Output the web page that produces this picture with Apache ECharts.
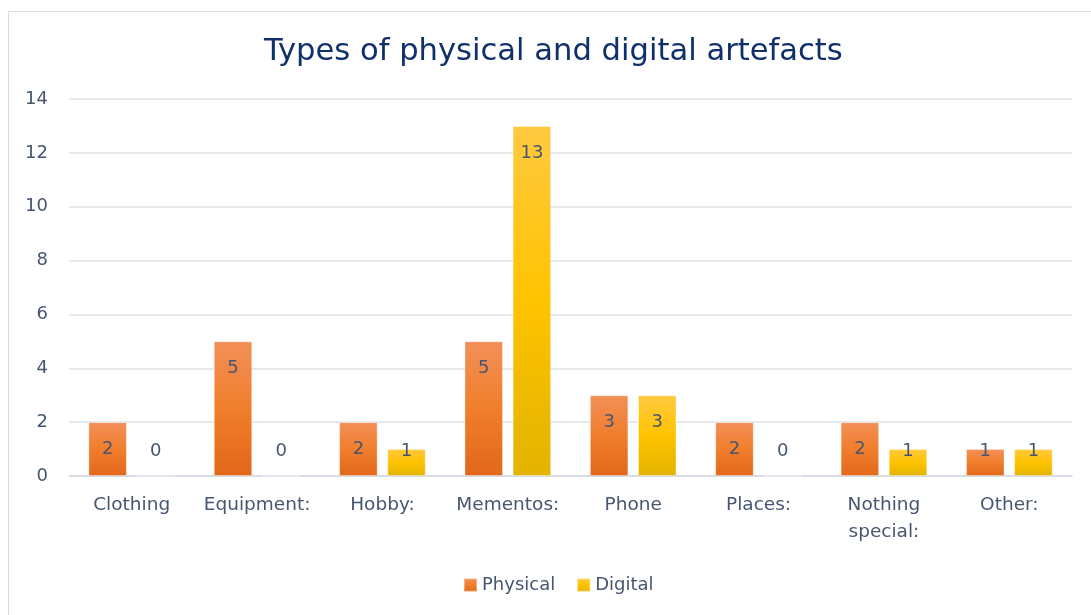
<!DOCTYPE html>
<html>
<head>
<meta charset="utf-8">
<title>Types of physical and digital artefacts</title>
<script src="https://cdn.jsdelivr.net/npm/echarts@6/dist/echarts.min.js"></script>
<style>
  html, body { margin: 0; padding: 0; background: #fff; }
  #frame {
    position: absolute; left: 8px; top: 11px; width: 1200px; height: 700px;
    border: 1.5px solid #d9dee5; box-sizing: border-box;
  }
  #chart { position: absolute; left: 0; top: 0; width: 1091px; height: 615px; }
</style>
</head>
<body>
<div id="frame"></div>
<div id="chart"></div>
<script>
const categories = ['Clothing', 'Equipment:', 'Hobby:', 'Mementos:', 'Phone', 'Places:', 'Nothing\nspecial:', 'Other:'];
const physical = [2, 5, 2, 5, 3, 2, 2, 1];
const digital = [0, 0, 1, 13, 3, 0, 1, 1];
const yTicks = { min: 0, max: 14, step: 2 };

const textColor = '#475670';
const font = 'DejaVu Sans, Verdana, sans-serif';

function grad(top, mid, bottom) {
  return new echarts.graphic.LinearGradient(0, 0, 0, 1, [
    { offset: 0, color: top },
    { offset: 0.5, color: mid },
    { offset: 1, color: bottom }
  ]);
}

// value labels sit near the top of tall bars; short bars keep them just above the base
function withLabels(values) {
  return values.map(v => ({
    value: v,
    label: v >= 2
      ? { position: 'insideTop', distance: 17 }
      : { position: 'insideBottom', distance: 15 }
  }));
}

const labelStyle = {
  show: true,
  color: textColor,
  fontFamily: font,
  fontSize: 18,
  lineHeight: 20
};

const chart = echarts.init(document.getElementById('chart'), null, { renderer: 'canvas' });
chart.setOption({
  animation: false,
  title: {
    text: 'Types of physical and digital artefacts',
    left: 259,
    top: 32,
    textStyle: { color: '#10306b', fontFamily: font, fontSize: 30.6, fontWeight: 'normal', lineHeight: 31 }
  },
  legend: {
    bottom: 16,
    left: 458,
    itemWidth: 13,
    itemHeight: 13,
    itemGap: 21,
    icon: 'rect',
    textStyle: { color: textColor, fontFamily: font, fontSize: 18 },
    data: ['Physical', 'Digital']
  },
  grid: { left: 69, right: 19, top: 99, bottom: 139, containLabel: false },
  xAxis: {
    type: 'category',
    data: categories,
    axisTick: { show: false },
    axisLine: { show: true, lineStyle: { color: '#d3d9e2', width: 1.5 } },
    axisLabel: { color: textColor, fontFamily: font, fontSize: 18.5, lineHeight: 27, margin: 16, interval: 0 }
  },
  yAxis: {
    type: 'value',
    min: yTicks.min,
    max: yTicks.max,
    interval: yTicks.step,
    axisLine: { show: false },
    axisTick: { show: false },
    axisLabel: { color: textColor, fontFamily: font, fontSize: 18, margin: 21 },
    splitLine: { lineStyle: { color: '#dde2e9', width: 1.5 } }
  },
  series: [
    {
      name: 'Physical',
      type: 'bar',
      barWidth: 38.5,
      barGap: '25%',
      data: withLabels(physical),
      itemStyle: {
        color: grad('#f28f58', '#f07e2c', '#e2671b'),
        borderColor: 'rgba(255,255,255,0.35)',
        borderWidth: 1
      },
      label: labelStyle
    },
    {
      name: 'Digital',
      type: 'bar',
      barWidth: 38.5,
      data: withLabels(digital),
      itemStyle: {
        color: grad('#ffc940', '#ffc300', '#e2b300'),
        borderColor: 'rgba(255,255,255,0.35)',
        borderWidth: 1
      },
      label: labelStyle
    }
  ]
});
</script>
</body>
</html>
